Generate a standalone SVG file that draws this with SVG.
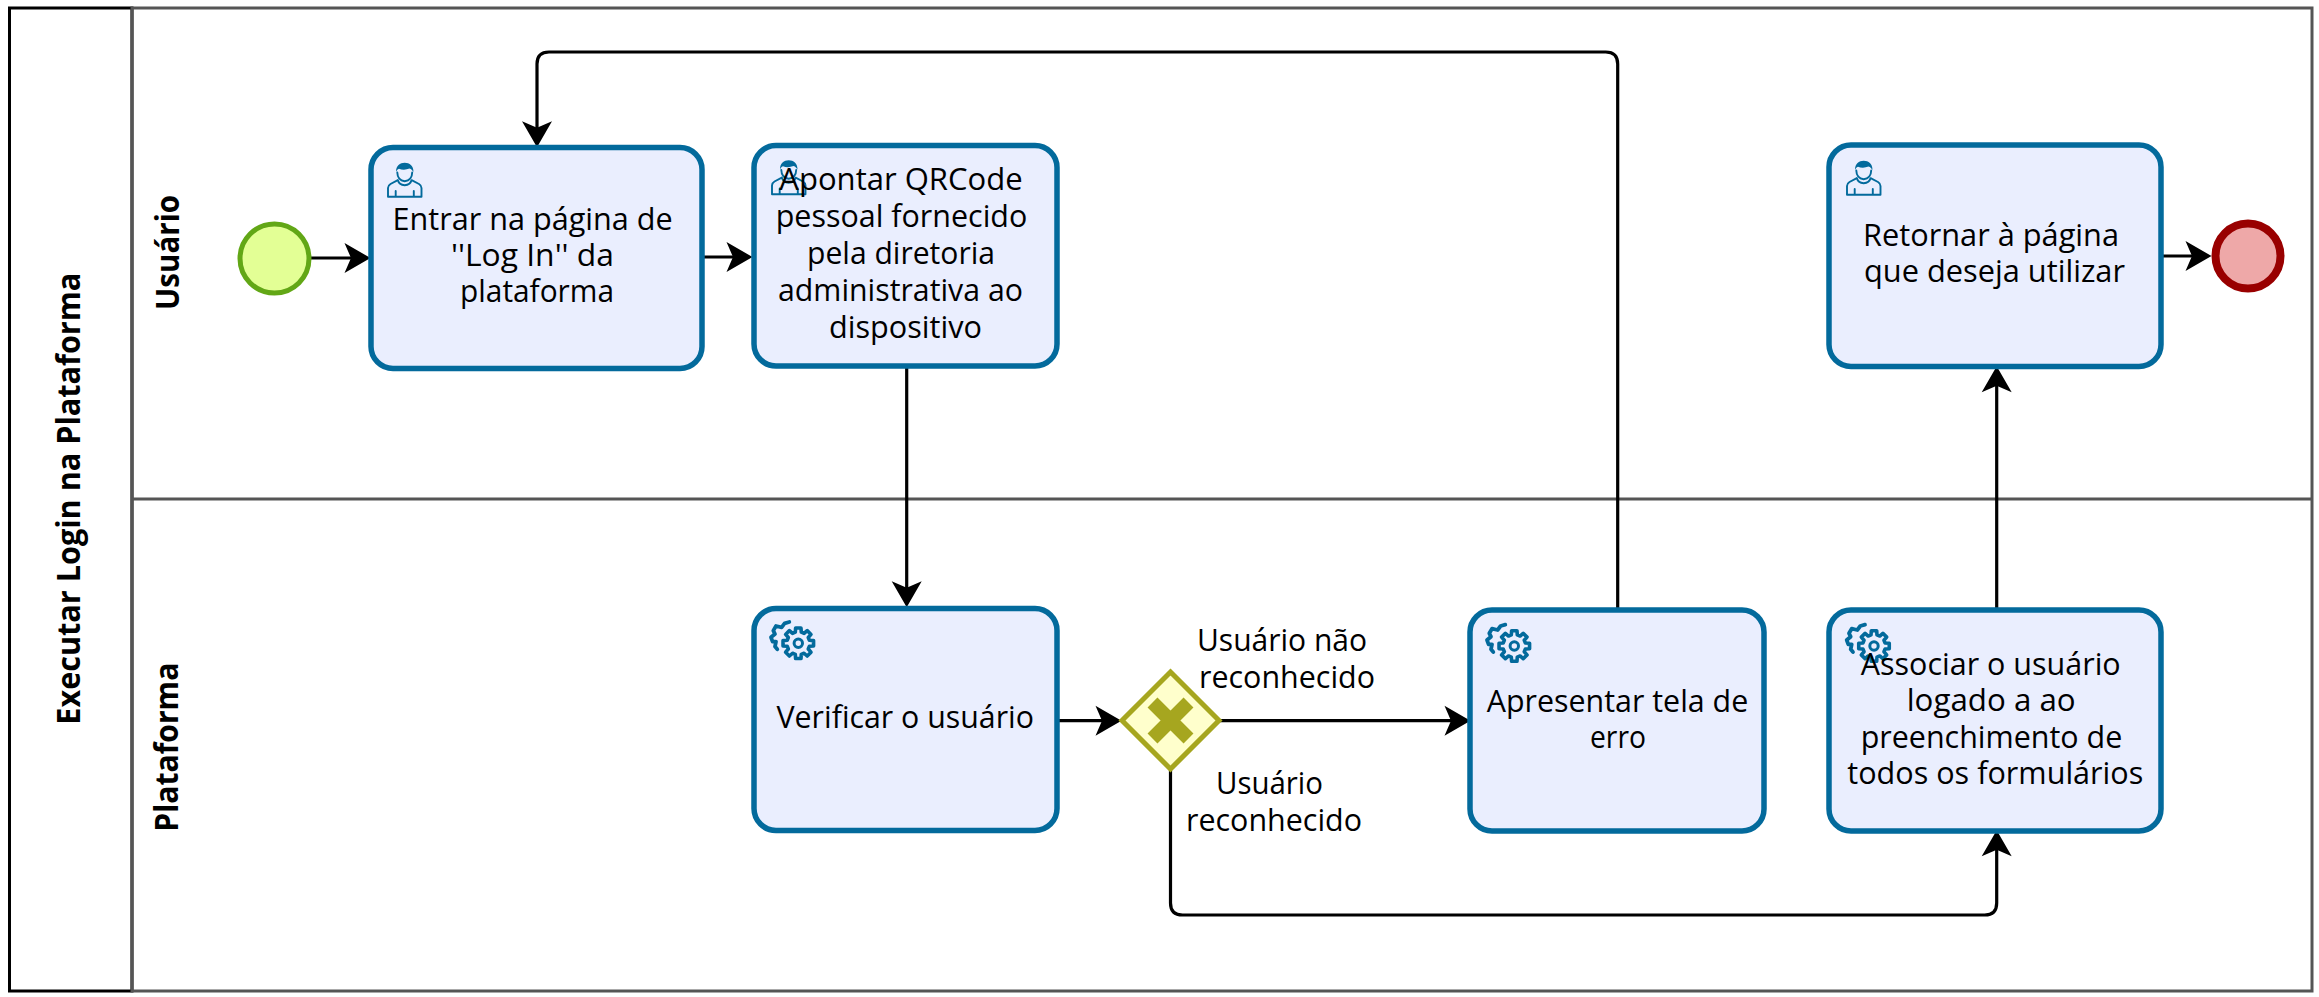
<svg xmlns="http://www.w3.org/2000/svg" xmlns:xlink="http://www.w3.org/1999/xlink" width="2319" height="997" viewBox="0 0 2319 997">
<style>
.t{font-family:"Open Sans","Noto Sans","Liberation Sans",sans-serif;font-size:31px;fill:#000}
.h{font-family:"Open Sans","Noto Sans","Liberation Sans",sans-serif;font-size:32px;font-weight:700;fill:#000}
.task{fill:#EAEEFE;stroke:#036A9C;stroke-width:5.5}
.lane{fill:none;stroke:#555;stroke-width:3}
.flow{fill:none;stroke:#000;stroke-width:3.2;marker-end:url(#arrow)}
.ic{fill:none;stroke:#036A9C;stroke-linejoin:round;stroke-linecap:round}
</style>
<defs>
<marker id="arrow" markerUnits="userSpaceOnUse" markerWidth="28" markerHeight="32" refX="16" refY="15.5" orient="auto" overflow="visible">
<path d="M0.5,0.5 L26.5,15.5 L0.5,30.5 L7,15.5 Z" fill="#000"/>
</marker>
<g id="user">
<path class="ic" stroke-width="1.9" d="M1,34.3 V25.5 Q1,23 3.5,21.5 L10.8,17.6 Q12,22.5 17.7,22.7 Q23.4,22.5 24.6,17.6 L32,21.5 Q34.5,23 34.5,25.5 V34.3 Z M8.7,28.5 V34.3 M26.8,28.5 V34.3"/>
<path class="ic" stroke-width="1.9" d="M10.3,10 Q10.5,17.8 17.7,18.7 Q25,17.8 25.2,10"/>
<path d="M9,9.5 C9,3 13,0.3 17.7,0.3 C22.5,0.3 26.5,3 26.5,9.5 C25.5,8 24.5,6.5 22.5,6 C19,7.5 15,7.5 12,6.2 C10.5,6.8 9.7,8 9,9.5 Z" fill="#036A9C"/>
</g>
<g id="gear">
<path class="ic" stroke-width="3.6" d="M-2.69,-15.26 L2.69,-15.26 L2.98,-11.11 L5.75,-9.96 L8.89,-12.7 L12.7,-8.89 L9.96,-5.75 L11.11,-2.98 L15.26,-2.69 L15.26,2.69 L11.11,2.98 L9.96,5.75 L12.7,8.89 L8.89,12.7 L5.75,9.96 L2.98,11.11 L2.69,15.26 L-2.69,15.26 L-2.98,11.11 L-5.75,9.96 L-8.89,12.7 L-12.7,8.89 L-9.96,5.75 L-11.11,2.98 L-15.26,2.69 L-15.26,-2.69 L-11.11,-2.98 L-9.96,-5.75 L-12.7,-8.89 L-8.89,-12.7 L-5.75,-9.96 L-2.98,-11.11 Z"/>
<circle class="ic" stroke-width="3" r="4.2"/>
<path class="ic" stroke-width="3.8" d="M-9,-21.3 L-13.7,-20 L-16.7,-16 L-22.3,-17.3 L-25,-12.7 L-23.3,-9.3 L-27.3,-6 L-25.7,-1.7 L-22.3,-1.7 L-23.3,3.3 L-21,6"/>
</g>
</defs>
<rect width="2319" height="997" fill="#fff"/>
<g id="pool">
<rect x="9.5" y="8" width="122.5" height="983" fill="none" stroke="#000" stroke-width="3"/>
<rect x="132" y="8" width="2180" height="983" class="lane"/>
<line x1="132" y1="499" x2="2312" y2="499" class="lane"/>
<text class="h" transform="translate(80,724.7) rotate(-90)" textLength="452" lengthAdjust="spacingAndGlyphs">Executar Login na Plataforma</text>
<text id="lane-usuario" class="h" transform="translate(179,310) rotate(-90)" textLength="115" lengthAdjust="spacingAndGlyphs">Usuário</text>
<text id="lane-plataforma" class="h" transform="translate(178,831.7) rotate(-90)" textLength="169" lengthAdjust="spacingAndGlyphs">Plataforma</text>
</g>
<g id="connectors">
<path class="flow" d="M311,258 H360"/>
<path class="flow" d="M704,257 H742"/>
<path class="flow" d="M906.7,367 V596.7"/>
<path class="flow" d="M1057,720.7 H1111"/>
<path class="flow" d="M1220,720.7 H1460"/>
<path class="flow" d="M1617.7,608 V64 Q1617.7,52 1605.7,52 H549 Q537,52 537,64 V136.7"/>
<path class="flow" d="M1170.5,770 V903 Q1170.5,915 1182.5,915 H1984.7 Q1996.7,915 1996.7,903 V840.7"/>
<path class="flow" d="M1996.7,608 V376.7"/>
<path class="flow" d="M2161,256 H2201"/>
</g>
<g id="start"><circle cx="274.5" cy="258.5" r="34.5" fill="#E3FF95" stroke="#62A716" stroke-width="5"/></g>
<g id="task-entrar">
<rect class="task" x="371" y="147.5" width="331" height="221" rx="22"/>
<use href="#user" x="387" y="162.5"/>
<text class="t" x="392.6" y="230" textLength="280" lengthAdjust="spacingAndGlyphs">Entrar na página de</text>
<text class="t" x="451" y="266" textLength="163" lengthAdjust="spacingAndGlyphs">''Log In'' da</text>
<text class="t" x="460" y="302" textLength="154" lengthAdjust="spacingAndGlyphs">plataforma</text>
</g>
<g id="task-apontar">
<rect class="task" x="754" y="145.5" width="303" height="220.5" rx="22"/>
<use href="#user" x="771" y="160"/>
<text class="t" x="779.3" y="190" textLength="243.4" lengthAdjust="spacingAndGlyphs">Apontar QRCode</text>
<text class="t" x="775.7" y="227" textLength="251.6" lengthAdjust="spacingAndGlyphs">pessoal fornecido</text>
<text class="t" x="807" y="264" textLength="188" lengthAdjust="spacingAndGlyphs">pela diretoria</text>
<text class="t" x="778" y="301" textLength="245" lengthAdjust="spacingAndGlyphs">administrativa ao</text>
<text class="t" x="829" y="338" textLength="153" lengthAdjust="spacingAndGlyphs">dispositivo</text>
</g>
<g id="task-retornar">
<rect class="task" x="1829" y="145" width="332" height="221.5" rx="22"/>
<use href="#user" x="1846" y="160.5"/>
<text class="t" x="1863" y="246" textLength="256" lengthAdjust="spacingAndGlyphs">Retornar à página</text>
<text class="t" x="1864" y="282.3" textLength="261" lengthAdjust="spacingAndGlyphs">que deseja utilizar</text>
</g>
<g id="end"><circle cx="2248" cy="256" r="32.5" fill="#EEA8A8" stroke="#990000" stroke-width="8"/></g>
<g id="task-verificar">
<rect class="task" x="754" y="608.5" width="303" height="222" rx="22"/>
<use href="#gear" x="798.3" y="643.3"/>
<text class="t" x="776.5" y="728" textLength="257.5" lengthAdjust="spacingAndGlyphs">Verificar o usuário</text>
</g>
<g id="gateway">
<path d="M1170.5,672 L1219,720.5 L1170.5,769 L1122,720.5 Z" fill="#FFFFCC" stroke="#A6A61F" stroke-width="5"/>
<path d="M1152.5,702.5 L1188.5,738.5 M1188.5,702.5 L1152.5,738.5" fill="none" stroke="#A6A61F" stroke-width="14"/>
</g>
<g id="label-nao">
<text class="t" x="1197" y="651" textLength="170" lengthAdjust="spacingAndGlyphs">Usuário não</text>
<text class="t" x="1199" y="688" textLength="176" lengthAdjust="spacingAndGlyphs">reconhecido</text>
</g>
<g id="label-sim">
<text class="t" x="1216" y="794" textLength="107" lengthAdjust="spacingAndGlyphs">Usuário</text>
<text class="t" x="1186" y="831" textLength="176" lengthAdjust="spacingAndGlyphs">reconhecido</text>
</g>
<g id="task-erro">
<rect class="task" x="1470" y="610" width="294" height="221" rx="22"/>
<use href="#gear" x="1514.3" y="646"/>
<text class="t" x="1486.7" y="711.7" textLength="261.6" lengthAdjust="spacingAndGlyphs">Apresentar tela de</text>
<text class="t" x="1590" y="747.5" textLength="56" lengthAdjust="spacingAndGlyphs">erro</text>
</g>
<g id="task-associar">
<rect class="task" x="1829" y="610" width="332" height="221" rx="22"/>
<use href="#gear" x="1874" y="646"/>
<text class="t" x="1860.7" y="675" textLength="260" lengthAdjust="spacingAndGlyphs">Associar o usuário</text>
<text class="t" x="1906.7" y="711" textLength="169" lengthAdjust="spacingAndGlyphs">logado a ao</text>
<text class="t" x="1860.7" y="747.5" textLength="261.6" lengthAdjust="spacingAndGlyphs">preenchimento de</text>
<text class="t" x="1847.3" y="784.3" textLength="296" lengthAdjust="spacingAndGlyphs">todos os formulários</text>
</g>
</svg>
